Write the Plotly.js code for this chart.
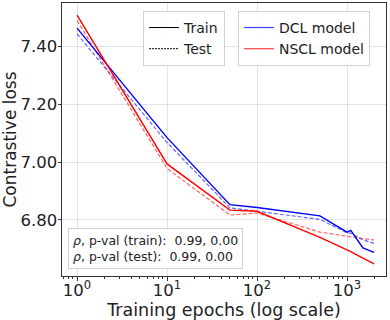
<!DOCTYPE html>
<html>
<head>
<meta charset="utf-8">
<script src="https://cdn.plot.ly/plotly-3.0.1.min.js"></script>
<style>html,body{margin:0;padding:0;background:#fff}#chart{width:390px;height:320px}</style>
</head>
<body>
<div id="chart"></div>
<script>
// contrastive loss vs training epochs, DCL vs NSCL
const epochs = [1, 10, 50, 100, 500, 1000, 1100, 1500, 2000];
const dclTrain = [7.464, 7.085, 6.853, 6.843, 6.814, 6.758, 6.764, 6.703, 6.688];
const dclTest = [7.444, 7.068, 6.842, 6.830, 6.802, 6.756, 6.754, 6.731, 6.719];
const nsclTrain = [7.509, 6.994, 6.834, 6.830, 6.740, 6.697, 6.690, 6.668, 6.648];
const nsclTest = [7.490, 6.978, 6.817, 6.824, 6.758, 6.742, 6.740, 6.735, 6.731];

const xTickVals = [1, 10, 100, 1000];
const xTickText = ["10<sup>0</sup>", "10<sup>1</sup>", "10<sup>2</sup>", "10<sup>3</sup>"];
const yTickVals = [6.8, 7.0, 7.2, 7.4];
const statLines = [
  "<i>ρ</i>, p-val (train): \u00a00.99, 0.00",
  "<i>ρ</i>, p-val (test): \u00a00.99, 0.00",
];

const BLUE = "#0000ff", RED = "#ff0000";

function series(y, color, dashed) {
  return {
    x: epochs, y: y, type: "scatter", mode: "lines", showlegend: false,
    line: dashed ? { color: color, width: 1.2, dash: "4px,2px" } : { color: color, width: 1.4 },
    opacity: dashed ? 0.6 : 1,
  };
}

function keyEntry(name, line, legend) {
  return { x: [null], y: [null], type: "scatter", mode: "lines", name: name, line: line, legend: legend };
}

const traces = [
  series(dclTest, BLUE, true),
  series(nsclTest, RED, true),
  series(dclTrain, BLUE, false),
  series(nsclTrain, RED, false),
  keyEntry("Train", { color: "#000", width: 1 }, "legend"),
  keyEntry("Test", { color: "#000", width: 1, dash: "2px,1px" }, "legend"),
  keyEntry("DCL model", { color: "rgba(0,0,255,0.75)", width: 1.2 }, "legend2"),
  keyEntry("NSCL model", { color: "rgba(255,0,0,0.75)", width: 1.2 }, "legend2"),
];

const legendBase = {
  xanchor: "left", yanchor: "top", y: 0.971,
  bgcolor: "rgba(255,255,255,0.85)", bordercolor: "#d0d0d0", borderwidth: 1,
  font: { size: 14, color: "#222" }, itemwidth: 30, tracegroupgap: 0,
};

const layout = {
  width: 390, height: 320,
  margin: { l: 62, r: 4, t: 3, b: 44 },
  font: { family: "DejaVu Sans", color: "#222" },
  paper_bgcolor: "#fff", plot_bgcolor: "#fff",
  xaxis: {
    type: "log", range: [-0.167, 3.433],
    tickvals: xTickVals, ticktext: xTickText,
    tickfont: { size: 16.5 }, ticklabelstandoff: -4,
    ticks: "outside", ticklen: 3.5, tickcolor: "#333",
    minor: { dtick: "D1", ticks: "outside", ticklen: 2, tickcolor: "#333", showgrid: false },
    showgrid: true, gridcolor: "#dcdcdc", gridwidth: 0.8,
    showline: true, mirror: true, linecolor: "#333", linewidth: 1,
    zeroline: false,
    title: { text: "Training epochs (log scale)", font: { size: 17.5 }, standoff: 0 },
  },
  yaxis: {
    range: [6.606, 7.551],
    tickvals: yTickVals, tickformat: ".2f",
    tickfont: { size: 16.5 }, ticklabelstandoff: -3,
    ticks: "outside", ticklen: 3.5, tickcolor: "#333",
    showgrid: true, gridcolor: "#dcdcdc", gridwidth: 0.8,
    showline: true, mirror: true, linecolor: "#333", linewidth: 1,
    zeroline: false,
    title: { text: "Contrastive loss", font: { size: 17 }, standoff: 5 },
  },
  legend: Object.assign({}, legendBase, { x: 0.25 }),
  legend2: Object.assign({}, legendBase, { x: 0.543 }),
  annotations: [{
    xref: "paper", yref: "paper", x: 0.0185, y: 0.026,
    xanchor: "left", yanchor: "bottom", align: "left",
    text: statLines.join("<br>"),
    font: { size: 12.5, color: "#222" },
    bgcolor: "rgba(255,255,255,0.85)", bordercolor: "#d0d0d0", borderwidth: 1, borderpad: 4,
    showarrow: false,
  }],
};

Plotly.newPlot("chart", traces, layout, { displayModeBar: false, staticPlot: true });
</script>
</body>
</html>
